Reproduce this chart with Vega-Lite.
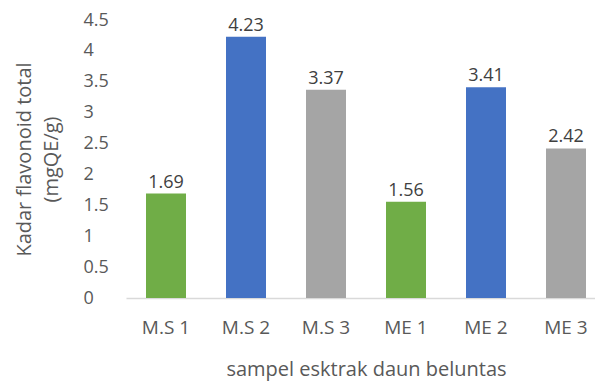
{
  "$schema": "https://vega.github.io/schema/vega-lite/v6.json",
  "autosize": "none",
  "width": 480,
  "height": 278,
  "padding": {"left": 126, "top": 20, "right": 0, "bottom": 85},
  "background": "white",
  "config": {"view": {"stroke": null}, "font": "Open Sans"},
  "data": {"values": [
    {"sampel": "M.S 1", "nilai": 1.69, "kelompok": "1"},
    {"sampel": "M.S 2", "nilai": 4.23, "kelompok": "2"},
    {"sampel": "M.S 3", "nilai": 3.37, "kelompok": "3"},
    {"sampel": "ME 1", "nilai": 1.56, "kelompok": "1"},
    {"sampel": "ME 2", "nilai": 3.41, "kelompok": "2"},
    {"sampel": "ME 3", "nilai": 2.42, "kelompok": "3"}
  ]},
  "encoding": {
    "x": {"field": "sampel", "type": "nominal", "sort": null,
      "scale": {"paddingInner": 0.5, "paddingOuter": 0.25},
      "axis": {"title": "sampel esktrak daun beluntas", "labelAngle": 0, "labelFontSize": 19, "labelColor": "#595959",
        "ticks": false, "tickSize": 0, "labelPadding": 20, "domainColor": "#d9d9d9", "domainWidth": 1.5,
        "titleFontSize": 20, "titleFontWeight": "normal", "titleColor": "#595959", "titlePadding": 22}},
    "y": {"field": "nilai", "type": "quantitative",
      "scale": {"domain": [0, 4.5]},
      "axis": {"title": ["Kadar flavonoid total", "(mgQE/g)"], "values": [0, 0.5, 1, 1.5, 2, 2.5, 3, 3.5, 4, 4.5],
        "format": "~g",
        "grid": false, "domain": false, "ticks": false, "tickSize": 0, "labelPadding": 43, "labelAlign": "left",
        "labelFontSize": 18, "labelColor": "#595959",
        "titleFontSize": 20, "titleFontWeight": "normal", "titleColor": "#595959", "titleLineHeight": 27,
        "titleX": -102, "titleY": 139, "titleAlign": "center", "titleBaseline": "middle", "titleAngle": -90}}
  },
  "layer": [
    {"mark": {"type": "bar"},
     "encoding": {"color": {"field": "kelompok", "type": "nominal", "legend": null,
       "scale": {"domain": ["1", "2", "3"], "range": ["#70AD47", "#4472C4", "#A5A5A5"]}}}},
    {"mark": {"type": "text", "baseline": "bottom", "dy": -2, "fontSize": 18, "color": "#404040"},
     "encoding": {"text": {"field": "nilai", "type": "quantitative", "format": ".2f"}}}
  ]
}
